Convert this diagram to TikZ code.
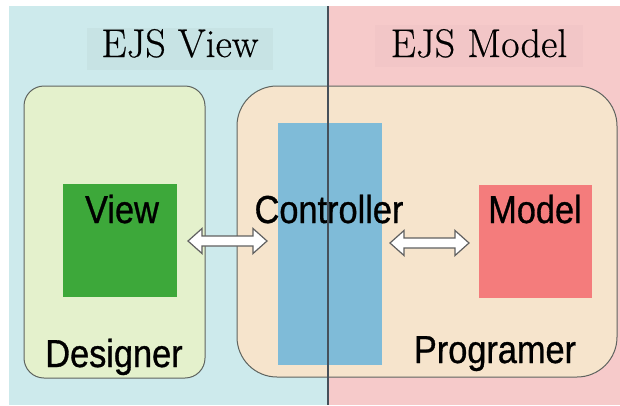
\documentclass[tikz,border=0pt]{standalone}
\usepackage{fontspec}
\newfontfamily\narrow[FakeStretch=0.88,FakeBold=0.8]{Liberation Sans}
\newfontfamily\titlefont[FakeBold=0.5]{Latin Modern Roman}
\usetikzlibrary{calc}
\definecolor{viewbg}{RGB}{205,234,236}
\definecolor{modelbg}{RGB}{246,202,202}
\definecolor{viewtitle}{RGB}{199,227,228}
\definecolor{modeltitle}{RGB}{242,198,199}
\definecolor{designerfill}{RGB}{228,241,204}
\definecolor{progfill}{RGB}{246,228,204}
\definecolor{ctrlfill}{RGB}{127,187,216}
\definecolor{viewfill}{RGB}{61,168,58}
\definecolor{modelfill}{RGB}{244,124,124}
\definecolor{edge}{RGB}{95,100,95}
\definecolor{divider}{RGB}{70,80,90}
\tikzset{
  group/.style={draw=edge, line width=1pt, inner sep=0pt, outer sep=0pt},
  block/.style={draw=none, inner sep=0pt, outer sep=0pt},
  lbl/.style={anchor=base, inner sep=0pt, font=\narrow\fontsize{39}{44}\selectfont},
  title/.style={anchor=base, inner xsep=0pt, inner ysep=0pt, font=\titlefont\fontsize{40}{46}\selectfont},
  twoarrow/.style={draw=gray!75!black, fill=white, line width=1.2pt, line join=miter},
}
\newcommand{\twoway}[2]{%
  \path[twoarrow] let \p1=(#1), \p2=(#2) in
    (\x1,\y1) -- (\x1+14pt,\y1+12.5pt) -- (\x1+14pt,\y1+5pt) -- (\x2-14pt,\y2+5pt)
    -- (\x2-14pt,\y2+12.5pt) -- (\x2,\y2) -- (\x2-14pt,\y2-12.5pt) -- (\x2-14pt,\y2-5pt)
    -- (\x1+14pt,\y1-5pt) -- (\x1+14pt,\y1-12.5pt) -- cycle;}
\begin{document}
\begin{tikzpicture}[x=1pt, y=-1pt]
\useasboundingbox (0,0) rectangle (620,405);
% background panels
\fill[white] (0,0) rectangle (620,405);
\fill[viewbg] (9,6) rectangle (328,405);
\fill[modelbg] (328,6) rectangle (620,405);
% titles
\node[title, fill=viewtitle, minimum width=186pt, text height=29pt, text depth=13pt] (tview) at (180,57) {EJS View};
\node[title, fill=modeltitle, minimum width=208pt, text height=32pt, text depth=10pt] (tmodel) at (479,57) {EJS Model};
% groups
\node[group, fill=designerfill, rounded corners=20pt, minimum width=181pt, minimum height=292pt] (designer) at (114.5,232) {};
\node[group, fill=progfill, rounded corners=40pt, minimum width=380pt, minimum height=291pt] (programer) at (427,231.5) {};
% blocks
\node[block, fill=ctrlfill, minimum width=104pt, minimum height=242pt] (ctrl) at (330,244) {};
\node[block, fill=viewfill, minimum width=114pt, minimum height=113pt] (view) at (120,240.5) {};
\node[block, fill=modelfill, minimum width=113pt, minimum height=113pt] (model) at (535.5,241.5) {};
% divider
\coordinate (dtop) at (328,6);
\coordinate (dbot) at (328,405);
\draw[divider, line width=1.1pt] (dtop) -- (dbot);
% labels
\node[lbl] (lview) at (122,223) {View};
\node[lbl] (lctrl) at (329,223) {Controller};
\node[lbl] (lmodel) at (535,223) {Model};
\node[lbl] (ldesigner) at (114,367) {Designer};
\node[lbl] (lprog) at (495,363) {Programer};
% arrows
\coordinate (a1) at ([xshift=11pt]view.east |- 0,241);
\coordinate (a2) at ([xshift=-11pt]ctrl.west |- 0,241);
\coordinate (b1) at ([xshift=8pt]ctrl.east |- 0,243);
\coordinate (b2) at ([xshift=-10pt]model.west |- 0,243);
\twoway{a1}{a2}
\twoway{b1}{b2}
\end{tikzpicture}
\end{document}
